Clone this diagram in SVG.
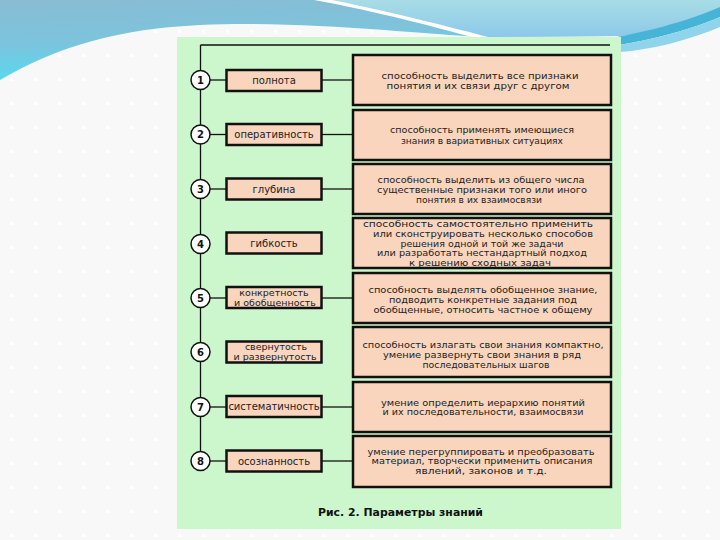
<svg xmlns="http://www.w3.org/2000/svg" width="720" height="540" viewBox="0 0 720 540">
<defs>
<pattern id="dots" x="0" y="0" width="24" height="24" patternUnits="userSpaceOnUse">
<rect width="24" height="24" fill="#f8f8f8"/>
<rect x="10" y="6" width="3" height="3" fill="#ffffff"/>
</pattern>
<linearGradient id="gBlue" x1="0" y1="0" x2="0.3" y2="1">
<stop offset="0" stop-color="#88bcd4"/>
<stop offset="0.5" stop-color="#7cc4dc"/>
<stop offset="1" stop-color="#52dcf2"/>
</linearGradient>
<linearGradient id="gLight" x1="0" y1="0" x2="0" y2="1">
<stop offset="0" stop-color="#a8dde6"/>
<stop offset="1" stop-color="#8cc8ea"/>
</linearGradient>
<style>
.box{fill:#f9d5bd;stroke:#111;stroke-width:2.5}
.circ{fill:#fff;stroke:#111;stroke-width:1.5}
.num{font-family:"DejaVu Sans",Verdana,sans-serif;font-size:10px;font-weight:bold;fill:#111;text-anchor:middle}
.lbl{font-family:"DejaVu Sans",Verdana,sans-serif;font-size:10px;fill:#222;text-anchor:middle}
.lbl2{font-family:"DejaVu Sans",Verdana,sans-serif;font-size:9.5px;fill:#222;text-anchor:middle}
.txt{font-family:"DejaVu Sans",Verdana,sans-serif;font-size:9.5px;fill:#222;text-anchor:middle}
.sm{font-size:8.8px}
.cap{font-family:"DejaVu Sans",Verdana,sans-serif;font-size:10.5px;font-weight:bold;fill:#111;text-anchor:middle}
.con line{stroke:#111;stroke-width:1.3}
</style>
</defs>
<rect width="720" height="540" fill="url(#dots)"/>
<!-- top decoration -->
<path d="M0,0 H720 V8 C680,22 650,32 620,36 L483,37 C420,34 300,20 200,25 C120,29 60,45 0,80 Z" fill="url(#gBlue)"/>
<path d="M320,0 H720 V8 C680,22 650,32 620,36 L483,37 Z" fill="url(#gLight)"/>
<path d="M314,0 L332,0 C400,14 450,27 492,38 L476,38 C430,26 380,12 314,0 Z" fill="#ffffff"/>
<path d="M590,41 C640,35 690,20 720,7 V17 C690,30 645,42 605,47 Z" fill="#46b4d6"/>
<path d="M605,47 C645,42 690,30 720,17 V27 C690,40 650,50 620,52 Z" fill="#90d4ec"/>
<!-- panel -->
<rect x="177" y="37" width="444" height="492" fill="#ccf7cc"/>
<g id="connectors" class="con">
<line x1="200.5" y1="45" x2="610" y2="45"/>
<line x1="200.5" y1="45" x2="200.5" y2="452"/>
<line x1="210" y1="80" x2="226.5" y2="80"/><line x1="321.5" y1="80" x2="353" y2="80"/>
<line x1="210" y1="134.5" x2="226.5" y2="134.5"/><line x1="321.5" y1="134.5" x2="353" y2="134.5"/>
<line x1="210" y1="189" x2="226.5" y2="189"/><line x1="321.5" y1="189" x2="353" y2="189"/>
<line x1="210" y1="298" x2="226.5" y2="298"/><line x1="321.5" y1="298" x2="353" y2="298"/>
<line x1="210" y1="407" x2="226.5" y2="407"/><line x1="321.5" y1="407" x2="353" y2="407"/>
<line x1="210" y1="461" x2="226.5" y2="461"/><line x1="321.5" y1="461" x2="353" y2="461"/>
</g>
<g id="row1">
<circle class="circ" cx="200.5" cy="80" r="9.5"/><text class="num" x="200.5" y="83.5">1</text>
<rect class="box" x="226.5" y="70" width="95" height="21"/><text class="lbl" x="274" y="83.5">полнота</text>
<rect class="box" x="353" y="55" width="258" height="50"/>
<text class="txt" x="480" y="78.5" textLength="197" lengthAdjust="spacingAndGlyphs">способность выделить все признаки</text>
<text class="txt" x="478" y="88.5" textLength="183" lengthAdjust="spacingAndGlyphs">понятия и их связи друг с другом</text>
</g>
<g id="row2">
<circle class="circ" cx="200.5" cy="134.5" r="9.5"/><text class="num" x="200.5" y="138">2</text>
<rect class="box" x="226.5" y="124" width="95" height="21"/><text class="lbl" x="274" y="138">оперативность</text>
<rect class="box" x="353" y="110" width="258" height="50"/>
<text class="txt" x="482" y="133" textLength="184" lengthAdjust="spacingAndGlyphs">способность применять имеющиеся</text>
<text class="txt" x="482" y="143.5" textLength="162" lengthAdjust="spacingAndGlyphs">знания в вариативных ситуациях</text>
</g>
<g id="row3">
<circle class="circ" cx="200.5" cy="189" r="9.5"/><text class="num" x="200.5" y="192.5">3</text>
<rect class="box" x="226.5" y="178.5" width="95" height="21"/><text class="lbl" x="274" y="192.5">глубина</text>
<rect class="box" x="353" y="164" width="258" height="50"/>
<text class="txt sm" x="481" y="183" textLength="207" lengthAdjust="spacingAndGlyphs">способность выделить из общего числа</text>
<text class="txt sm" x="482" y="192.8" textLength="210" lengthAdjust="spacingAndGlyphs">существенные признаки того или иного</text>
<text class="txt sm" x="479" y="202.6" textLength="126" lengthAdjust="spacingAndGlyphs">понятия в их взаимосвязи</text>
</g>
<g id="row4">
<circle class="circ" cx="200.5" cy="244" r="9.5"/><text class="num" x="200.5" y="247.5">4</text>
<rect class="box" x="226.5" y="232.5" width="95" height="21"/><text class="lbl" x="274" y="247">гибкость</text>
<rect class="box" x="353" y="218" width="258" height="50"/>
<text class="txt" x="478" y="227" textLength="230" lengthAdjust="spacingAndGlyphs">способность самостоятельно применить</text>
<text class="txt" x="483" y="236.8" textLength="220" lengthAdjust="spacingAndGlyphs">или сконструировать несколько способов</text>
<text class="txt" x="482" y="246.6" textLength="163" lengthAdjust="spacingAndGlyphs">решения одной и той же задачи</text>
<text class="txt" x="482" y="256.4" textLength="210" lengthAdjust="spacingAndGlyphs">или разработать нестандартный подход</text>
<text class="txt" x="480" y="266" textLength="142" lengthAdjust="spacingAndGlyphs">к решению сходных задач</text>
</g>
<g id="row5">
<circle class="circ" cx="200.5" cy="298" r="9.5"/><text class="num" x="200.5" y="301.5">5</text>
<rect class="box" x="226.5" y="287" width="95" height="21"/>
<text class="lbl2" x="274" y="295.5">конкретность</text>
<text class="lbl2" x="275" y="305.5">и обобщенность</text>
<rect class="box" x="353" y="273" width="258" height="50"/>
<text class="txt sm" x="483" y="293" textLength="229" lengthAdjust="spacingAndGlyphs">способность выделять обобщенное знание,</text>
<text class="txt sm" x="483" y="302.8" textLength="188" lengthAdjust="spacingAndGlyphs">подводить конкретные задания под</text>
<text class="txt sm" x="483" y="312.6" textLength="219" lengthAdjust="spacingAndGlyphs">обобщенные, относить частное к общему</text>
</g>
<g id="row6">
<circle class="circ" cx="200.5" cy="352" r="9.5"/><text class="num" x="200.5" y="355.5">6</text>
<rect class="box" x="226.5" y="341.5" width="95" height="21"/>
<text class="lbl2" x="276" y="349.5">свернутость</text>
<text class="lbl2" x="275" y="359.5">и развернутость</text>
<rect class="box" x="353" y="327" width="258" height="50"/>
<text class="txt" x="483" y="347.5" textLength="241" lengthAdjust="spacingAndGlyphs">способность излагать свои знания компактно,</text>
<text class="txt" x="482" y="357.5" textLength="198" lengthAdjust="spacingAndGlyphs">умение развернуть свои знания в ряд</text>
<text class="txt" x="486" y="367.5" textLength="127" lengthAdjust="spacingAndGlyphs">последовательных шагов</text>
</g>
<g id="row7">
<circle class="circ" cx="200.5" cy="407" r="9.5"/><text class="num" x="200.5" y="410.5">7</text>
<rect class="box" x="226.5" y="396" width="95" height="21"/><text class="lbl" x="274" y="410">систематичность</text>
<rect class="box" x="353" y="382" width="258" height="50"/>
<text class="txt" x="483" y="405.5" textLength="204" lengthAdjust="spacingAndGlyphs">умение определить иерархию понятий</text>
<text class="txt" x="483" y="415" font-size="8.3" textLength="201" lengthAdjust="spacingAndGlyphs">и их последовательности, взаимосвязи</text>
</g>
<g id="row8">
<circle class="circ" cx="200.5" cy="461" r="9.5"/><text class="num" x="200.5" y="464.5">8</text>
<rect class="box" x="226.5" y="450.5" width="95" height="21"/><text class="lbl" x="274" y="464.5">осознанность</text>
<rect class="box" x="353" y="436" width="258" height="51"/>
<text class="txt sm" x="481" y="454.5" textLength="227" lengthAdjust="spacingAndGlyphs">умение перегруппировать и преобразовать</text>
<text class="txt sm" x="482" y="464" textLength="221" lengthAdjust="spacingAndGlyphs">материал, творчески применить описания</text>
<text class="txt sm" x="481" y="473.5" textLength="132" lengthAdjust="spacingAndGlyphs">явлений, законов и т.д.</text>
</g>
<text class="cap" x="400.5" y="516" textLength="165" lengthAdjust="spacingAndGlyphs">Рис. 2. Параметры знаний</text>
</svg>
